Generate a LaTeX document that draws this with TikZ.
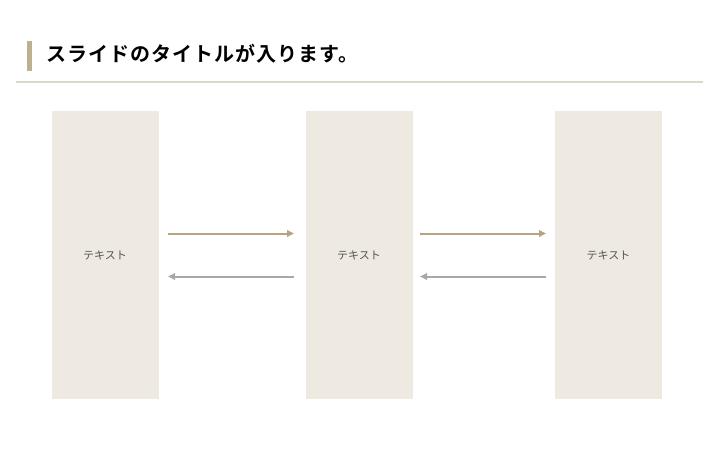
\documentclass[tikz,border=0pt]{standalone}
\usepackage{fontspec}
\newfontfamily\cjk{Noto Sans CJK JP}
\newfontfamily\cjkb[LetterSpace=5]{Noto Sans CJK JP Bold}
\usetikzlibrary{arrows.meta}
\definecolor{boxfill}{HTML}{EEEAE2}
\definecolor{gold}{HTML}{B5A47E}
\definecolor{grayarrow}{HTML}{A8A8A8}
\definecolor{titlebar}{HTML}{BCB08E}
\definecolor{rulecol}{HTML}{DDD8CC}
\definecolor{textgray}{HTML}{555555}
\tikzset{
  panel/.style={fill=boxfill, draw=none, minimum width=107pt, minimum height=288pt, inner sep=0pt, font={\cjk\fontsize{11pt}{13pt}\selectfont}, text=textgray},
  fwd/.style={draw=gold, line width=2pt, -{Triangle[length=7pt,width=6.5pt]}},
  bwd/.style={draw=grayarrow, line width=2pt, -{Triangle[length=7pt,width=6.5pt]}},
}
\begin{document}
\begin{tikzpicture}[x=1pt,y=-1pt]
\useasboundingbox (0,0) rectangle (720,450);
\fill[titlebar] (27,41) rectangle (31.5,70.5);
\node[anchor=west, inner sep=0pt, font={\cjkb\fontsize{20pt}{22pt}\selectfont}, text=black] (title) at (46,54) {スライドのタイトルが入ります。};
\draw[rulecol, line width=1.2pt] (16,82) -- (703,82);
\node[panel] (p1) at (105,255) {テキスト};
\node[panel] (p2) at (359,255) {テキスト};
\node[panel] (p3) at (608.5,255) {テキスト};
\coordinate (a1s) at (168,233.5); \coordinate (a1e) at (294,233.5);
\coordinate (b1s) at (294,276.5); \coordinate (b1e) at (168,276.5);
\coordinate (a2s) at (420,233.5); \coordinate (a2e) at (546,233.5);
\coordinate (b2s) at (546,276.5); \coordinate (b2e) at (420,276.5);
\draw[fwd] (a1s) -- (a1e);
\draw[bwd] (b1s) -- (b1e);
\draw[fwd] (a2s) -- (a2e);
\draw[bwd] (b2s) -- (b2e);
\end{tikzpicture}
\end{document}
